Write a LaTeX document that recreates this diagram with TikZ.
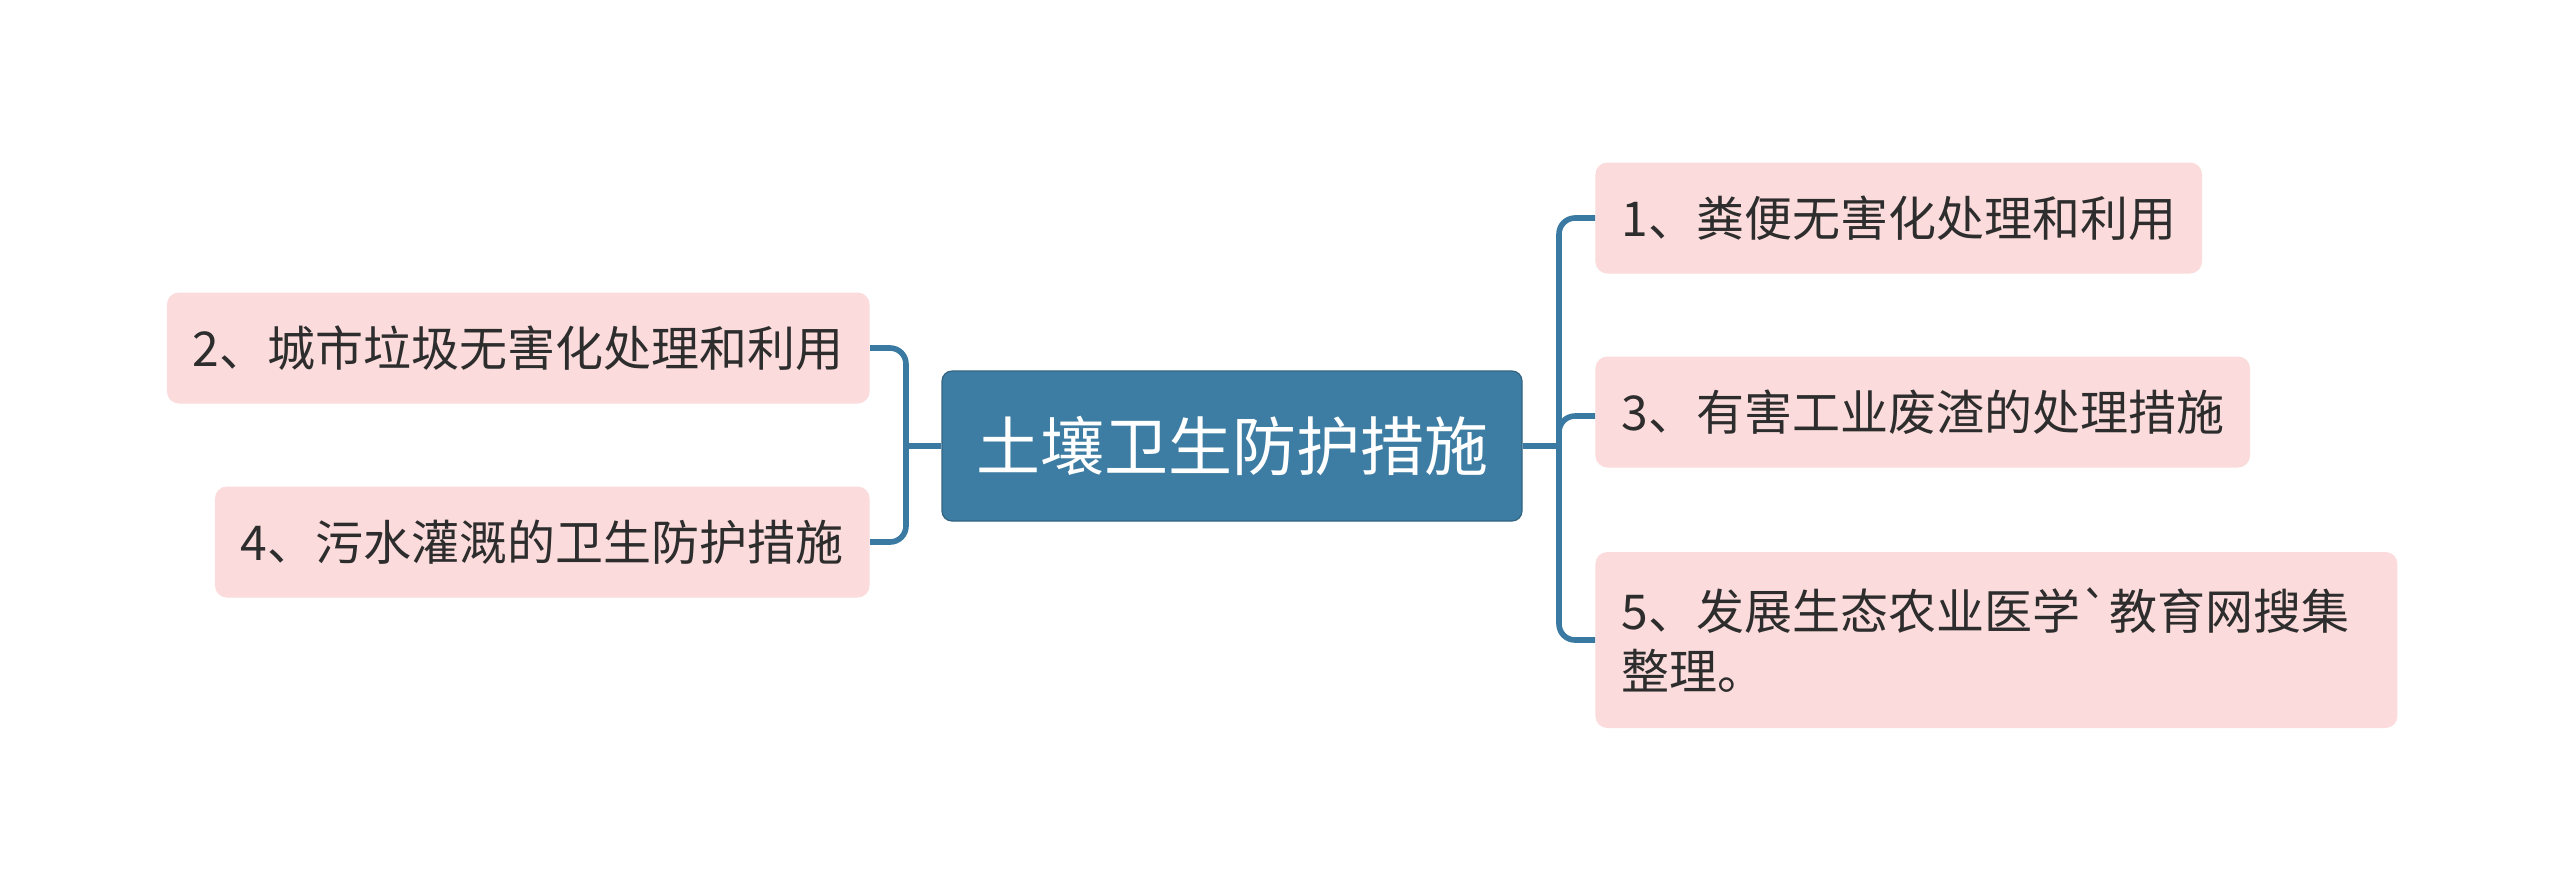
\documentclass[tikz,border=0pt]{standalone}
\usepackage{fontspec}
\newfontfamily\cjk{Noto Sans CJK SC}
\usepackage{tikz}
\usetikzlibrary{positioning, calc}
\usepackage{xcolor}
\definecolor{rootblue}{RGB}{62,125,163}
\definecolor{linkblue}{RGB}{58,122,162}
\definecolor{leafpink}{RGB}{251,219,219}
\definecolor{leaftext}{RGB}{45,45,45}
\tikzset{
  basebox/.style={
    rectangle, rounded corners=6pt, align=left, font=\cjk\fontsize{24pt}{30pt}\selectfont
  },
  rootbox/.style={basebox, fill=rootblue, draw=rootblue!80!black, line width=0.6pt, text=white,
    minimum width=290pt, minimum height=75pt, rounded corners=5pt,
    font=\cjk\fontsize{32pt}{38pt}\selectfont},
  leafbox/.style={basebox, fill=leafpink, text=leaftext, inner xsep=13pt, inner ysep=8pt,
    minimum height=55.5pt},
  branch/.style={draw=linkblue, line width=2.8pt, rounded corners=8pt}
}

\begin{document}
\begin{tikzpicture}[x=0.5pt, y=-0.5pt]
  \useasboundingbox[fill=white] (0,0) rectangle (2560,891);

  \node[rootbox] (root) at (1232,446) {土壤卫生防护措施};

  % right side
  \node[leafbox, anchor=west] (fecal) at (1595,218) {1、粪便无害化处理和利用};
  \node[leafbox, anchor=west] (waste) at (1595,412) {3、有害工业废渣的处理措施};
  \node[leafbox, anchor=west, minimum height=88pt, text width=375pt] (ecoagri) at (1595,640)
        {5、发展生态农业医学`教育网搜集\\整理。};

  % left side
  \node[leafbox, anchor=east] (garbage) at (870,348) {2、城市垃圾无害化处理和利用};
  \node[leafbox, anchor=east] (sewage) at (870,542) {4、污水灌溉的卫生防护措施};

  \coordinate (jr) at (1559,446);
  \coordinate (jl) at (906,446);

  \draw[branch] (root.east) -- (jr);
  \draw[branch] (jr) |- (fecal.west);
  \draw[branch] (jr) |- ([yshift=-2pt]waste.west);
  \draw[branch] (jr) |- (ecoagri.west);

  \draw[branch] (root.west) -- (jl);
  \draw[branch] (jl) |- (garbage.east);
  \draw[branch] (jl) |- (sewage.east);
\end{tikzpicture}
\end{document}
